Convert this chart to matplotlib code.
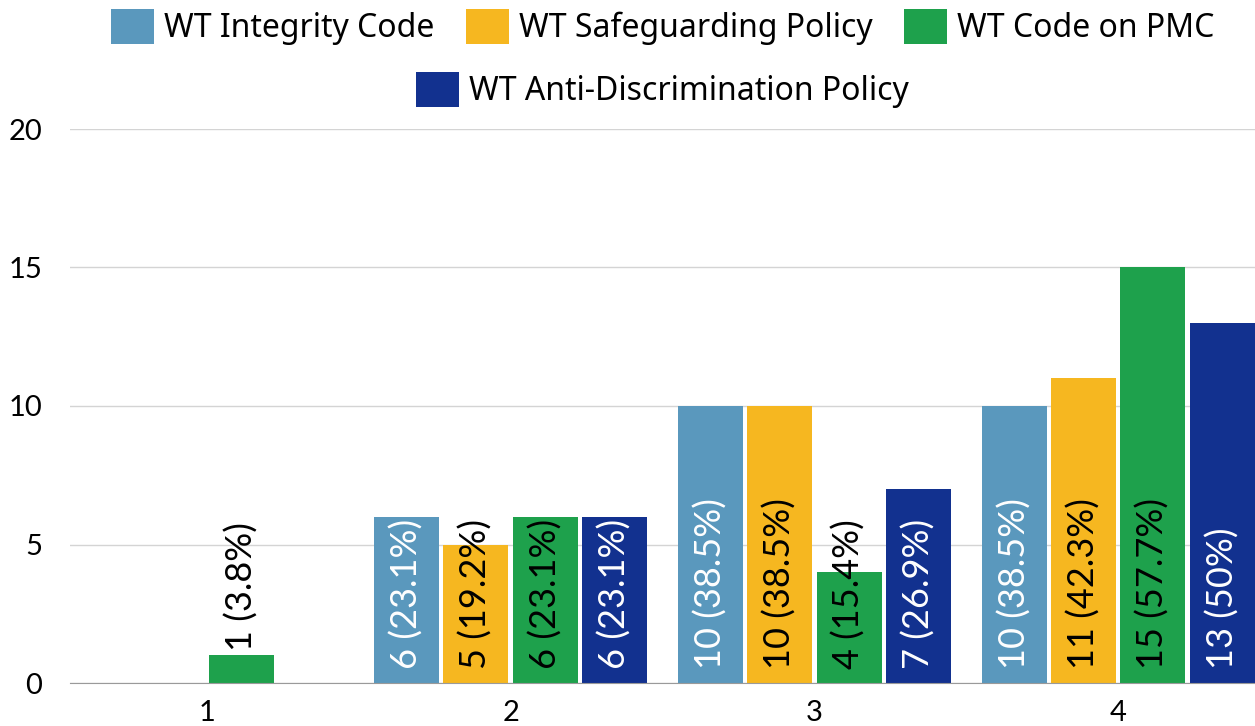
import matplotlib.pyplot as plt
import numpy as np

# datos
grupos = ['1', '2', '3', '4']
series = ['WT Integrity Code', 'WT Safeguarding Policy', 'WT Code on PMC',
          'WT Anti-Discrimination Policy']
integrity = [0, 6, 10, 10]
safeguarding = [0, 5, 10, 11]
code_pmc = [1, 6, 4, 15]
anti_disc = [0, 6, 7, 13]
pct_integrity = ['', '23.1', '38.5', '38.5']
pct_safeguarding = ['', '19.2', '38.5', '42.3']
pct_code_pmc = ['3.8', '23.1', '15.4', '57.7']
pct_anti_disc = ['', '23.1', '26.9', '50']

valores = [integrity, safeguarding, code_pmc, anti_disc]
porcentajes = [pct_integrity, pct_safeguarding, pct_code_pmc, pct_anti_disc]
colores = ['#5a98bd', '#f6b720', '#1ea14c', '#12318f']
color_texto = ['white', 'black', 'black', 'white']

plt.rcParams['font.family'] = ['Lato', 'DejaVu Sans']

fig = plt.figure(figsize=(12.55, 7.26), dpi=100)
ax = fig.add_axes([70 / 1255, 1 - 683 / 726, 1 - 70 / 1255, (683 - 129) / 726])

x = np.arange(len(grupos))
ancho = 0.214
paso = 0.228
handles = []
for i, (vals, pcts) in enumerate(zip(valores, porcentajes)):
    pos = x + (i - 1.5) * paso
    barras = ax.bar(pos, vals, ancho, color=colores[i], label=series[i], zorder=2)
    handles.append(barras)
    for xp, v, p in zip(pos, vals, pcts):
        if v == 0:
            continue
        texto = f'{v} ({p}%)'
        if v < 2:
            ax.annotate(texto, (xp, v), xytext=(0, 3), textcoords='offset points',
                        rotation=90, ha='center', va='bottom', fontsize=26,
                        color='black', zorder=3)
        else:
            ax.annotate(texto, (xp, 0), xytext=(0, 10), textcoords='offset points',
                        rotation=90, ha='center', va='bottom', fontsize=26,
                        color=color_texto[i], zorder=3)

ax.set_xlim(-0.45, 3.45)
ax.set_ylim(0, 20)
ax.set_xticks(x)
ax.set_xticklabels(grupos)
ax.set_yticks([0, 5, 10, 15, 20])
ax.tick_params(axis='both', length=0, labelsize=21)
ax.tick_params(axis='y', pad=20)
ax.tick_params(axis='x', pad=12)
ax.yaxis.grid(True, color='#d4d4d4', linewidth=1, zorder=0)
for s in ['top', 'right', 'left']:
    ax.spines[s].set_visible(False)
ax.spines['bottom'].set_color('#9a9a9a')
ax.spines['bottom'].set_zorder(4)

# leyenda en dos filas centradas
opts = dict(frameon=False, handlelength=1.35, handleheight=1.3,
            handletextpad=0.3, columnspacing=1.0, borderaxespad=0,
            prop={'family': ['Noto Sans', 'DejaVu Sans'], 'size': 23})
leg1 = ax.legend(handles[:3], series[:3], ncol=3, loc='center',
                 bbox_to_anchor=(0.5, 1 + (129 - 27) / 554), **opts)
ax.add_artist(leg1)
ax.legend(handles[3:], series[3:], ncol=1, loc='center',
          bbox_to_anchor=(0.5, 1 + (129 - 90) / 554), **opts)

fig.savefig('out.png', dpi=100)
